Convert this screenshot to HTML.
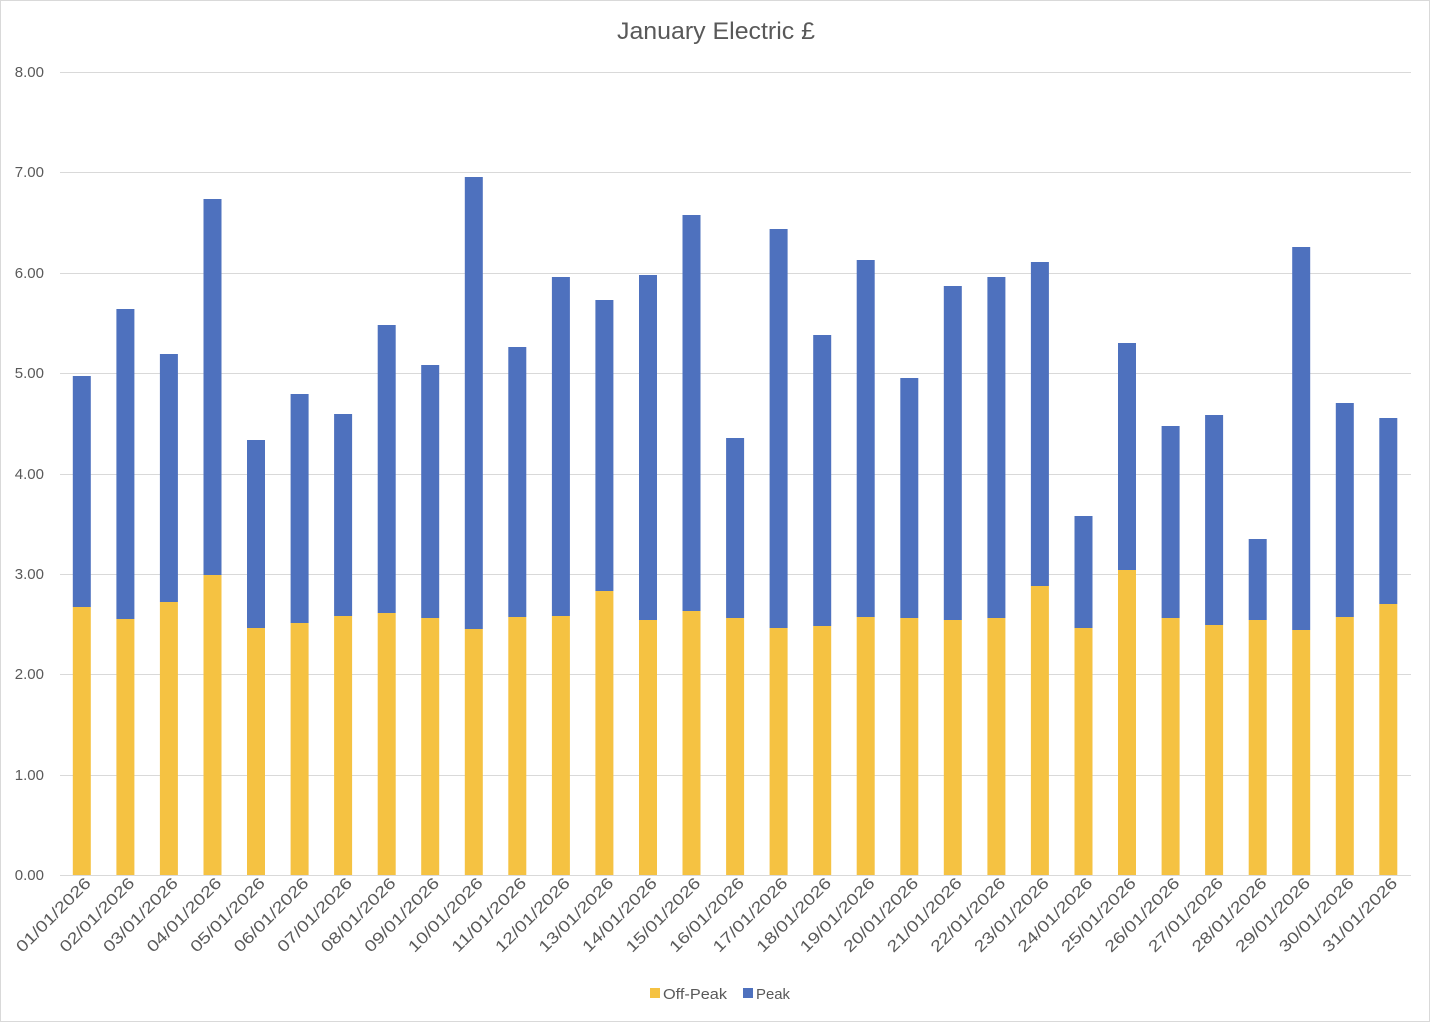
<!DOCTYPE html>
<html><head><meta charset="utf-8"><style>
html,body{margin:0;padding:0;background:#fff;}
svg{display:block;font-family:"Liberation Sans",sans-serif;}
</style></head><body>
<svg width="1430" height="1022" viewBox="0 0 1430 1022" xmlns="http://www.w3.org/2000/svg">
<rect x="0.5" y="0.5" width="1429" height="1021" fill="#fff" stroke="#d9d9d9"/>
<text x="716" y="39" text-anchor="middle" font-size="24" fill="#595959" textLength="198" lengthAdjust="spacingAndGlyphs">January Electric £</text>
<g stroke="#d9d9d9" stroke-width="1">
<line x1="60" x2="1411" y1="72.5" y2="72.5"/><line x1="60" x2="1411" y1="172.5" y2="172.5"/>
<line x1="60" x2="1411" y1="273.5" y2="273.5"/><line x1="60" x2="1411" y1="373.5" y2="373.5"/>
<line x1="60" x2="1411" y1="474.5" y2="474.5"/><line x1="60" x2="1411" y1="574.5" y2="574.5"/>
<line x1="60" x2="1411" y1="674.5" y2="674.5"/><line x1="60" x2="1411" y1="775.5" y2="775.5"/>
<line x1="60" x2="1411" y1="875.5" y2="875.5"/>
</g>
<g font-size="15" fill="#595959" text-anchor="end">
<text x="44" y="77">8.00</text><text x="44" y="177">7.00</text><text x="44" y="278">6.00</text>
<text x="44" y="378">5.00</text><text x="44" y="479">4.00</text><text x="44" y="579">3.00</text>
<text x="44" y="679">2.00</text><text x="44" y="780">1.00</text><text x="44" y="880">0.00</text>
</g>
<g fill="#F5C242">
<rect x="72.8" y="607" width="18" height="268"/>
<rect x="116.4" y="619" width="18" height="256"/>
<rect x="159.9" y="602" width="18" height="273"/>
<rect x="203.5" y="575" width="18" height="300"/>
<rect x="247" y="628" width="18" height="247"/>
<rect x="290.6" y="623" width="18" height="252"/>
<rect x="334.1" y="616" width="18" height="259"/>
<rect x="377.7" y="613" width="18" height="262"/>
<rect x="421.2" y="618" width="18" height="257"/>
<rect x="464.8" y="629" width="18" height="246"/>
<rect x="508.3" y="617" width="18" height="258"/>
<rect x="551.9" y="616" width="18" height="259"/>
<rect x="595.4" y="591" width="18" height="284"/>
<rect x="639" y="620" width="18" height="255"/>
<rect x="682.5" y="611" width="18" height="264"/>
<rect x="726.1" y="618" width="18" height="257"/>
<rect x="769.6" y="628" width="18" height="247"/>
<rect x="813.2" y="626" width="18" height="249"/>
<rect x="856.7" y="617" width="18" height="258"/>
<rect x="900.3" y="618" width="18" height="257"/>
<rect x="943.8" y="620" width="18" height="255"/>
<rect x="987.4" y="618" width="18" height="257"/>
<rect x="1030.9" y="586" width="18" height="289"/>
<rect x="1074.5" y="628" width="18" height="247"/>
<rect x="1118" y="570" width="18" height="305"/>
<rect x="1161.6" y="618" width="18" height="257"/>
<rect x="1205.1" y="625" width="18" height="250"/>
<rect x="1248.7" y="620" width="18" height="255"/>
<rect x="1292.2" y="630" width="18" height="245"/>
<rect x="1335.8" y="617" width="18" height="258"/>
<rect x="1379.3" y="604" width="18" height="271"/>
</g>
<g fill="#4E71BE">
<rect x="72.8" y="376" width="18" height="231"/>
<rect x="116.4" y="309" width="18" height="310"/>
<rect x="159.9" y="354" width="18" height="248"/>
<rect x="203.5" y="199" width="18" height="376"/>
<rect x="247" y="440" width="18" height="188"/>
<rect x="290.6" y="394" width="18" height="229"/>
<rect x="334.1" y="414" width="18" height="202"/>
<rect x="377.7" y="325" width="18" height="288"/>
<rect x="421.2" y="365" width="18" height="253"/>
<rect x="464.8" y="177" width="18" height="452"/>
<rect x="508.3" y="347" width="18" height="270"/>
<rect x="551.9" y="277" width="18" height="339"/>
<rect x="595.4" y="300" width="18" height="291"/>
<rect x="639" y="275" width="18" height="345"/>
<rect x="682.5" y="215" width="18" height="396"/>
<rect x="726.1" y="438" width="18" height="180"/>
<rect x="769.6" y="229" width="18" height="399"/>
<rect x="813.2" y="335" width="18" height="291"/>
<rect x="856.7" y="260" width="18" height="357"/>
<rect x="900.3" y="378" width="18" height="240"/>
<rect x="943.8" y="286" width="18" height="334"/>
<rect x="987.4" y="277" width="18" height="341"/>
<rect x="1030.9" y="262" width="18" height="324"/>
<rect x="1074.5" y="516" width="18" height="112"/>
<rect x="1118" y="343" width="18" height="227"/>
<rect x="1161.6" y="426" width="18" height="192"/>
<rect x="1205.1" y="415" width="18" height="210"/>
<rect x="1248.7" y="539" width="18" height="81"/>
<rect x="1292.2" y="247" width="18" height="383"/>
<rect x="1335.8" y="403" width="18" height="214"/>
<rect x="1379.3" y="418" width="18" height="186"/>
</g>
<g font-size="16" fill="#595959" text-anchor="end">
<text transform="translate(91.8,884) rotate(-45)" textLength="98" lengthAdjust="spacingAndGlyphs">01/01/2026</text>
<text transform="translate(135.4,884) rotate(-45)" textLength="98" lengthAdjust="spacingAndGlyphs">02/01/2026</text>
<text transform="translate(178.9,884) rotate(-45)" textLength="98" lengthAdjust="spacingAndGlyphs">03/01/2026</text>
<text transform="translate(222.5,884) rotate(-45)" textLength="98" lengthAdjust="spacingAndGlyphs">04/01/2026</text>
<text transform="translate(266,884) rotate(-45)" textLength="98" lengthAdjust="spacingAndGlyphs">05/01/2026</text>
<text transform="translate(309.6,884) rotate(-45)" textLength="98" lengthAdjust="spacingAndGlyphs">06/01/2026</text>
<text transform="translate(353.1,884) rotate(-45)" textLength="98" lengthAdjust="spacingAndGlyphs">07/01/2026</text>
<text transform="translate(396.7,884) rotate(-45)" textLength="98" lengthAdjust="spacingAndGlyphs">08/01/2026</text>
<text transform="translate(440.2,884) rotate(-45)" textLength="98" lengthAdjust="spacingAndGlyphs">09/01/2026</text>
<text transform="translate(483.8,884) rotate(-45)" textLength="98" lengthAdjust="spacingAndGlyphs">10/01/2026</text>
<text transform="translate(527.3,884) rotate(-45)" textLength="98" lengthAdjust="spacingAndGlyphs">11/01/2026</text>
<text transform="translate(570.9,884) rotate(-45)" textLength="98" lengthAdjust="spacingAndGlyphs">12/01/2026</text>
<text transform="translate(614.4,884) rotate(-45)" textLength="98" lengthAdjust="spacingAndGlyphs">13/01/2026</text>
<text transform="translate(658,884) rotate(-45)" textLength="98" lengthAdjust="spacingAndGlyphs">14/01/2026</text>
<text transform="translate(701.5,884) rotate(-45)" textLength="98" lengthAdjust="spacingAndGlyphs">15/01/2026</text>
<text transform="translate(745.1,884) rotate(-45)" textLength="98" lengthAdjust="spacingAndGlyphs">16/01/2026</text>
<text transform="translate(788.6,884) rotate(-45)" textLength="98" lengthAdjust="spacingAndGlyphs">17/01/2026</text>
<text transform="translate(832.2,884) rotate(-45)" textLength="98" lengthAdjust="spacingAndGlyphs">18/01/2026</text>
<text transform="translate(875.7,884) rotate(-45)" textLength="98" lengthAdjust="spacingAndGlyphs">19/01/2026</text>
<text transform="translate(919.3,884) rotate(-45)" textLength="98" lengthAdjust="spacingAndGlyphs">20/01/2026</text>
<text transform="translate(962.8,884) rotate(-45)" textLength="98" lengthAdjust="spacingAndGlyphs">21/01/2026</text>
<text transform="translate(1006.4,884) rotate(-45)" textLength="98" lengthAdjust="spacingAndGlyphs">22/01/2026</text>
<text transform="translate(1049.9,884) rotate(-45)" textLength="98" lengthAdjust="spacingAndGlyphs">23/01/2026</text>
<text transform="translate(1093.5,884) rotate(-45)" textLength="98" lengthAdjust="spacingAndGlyphs">24/01/2026</text>
<text transform="translate(1137,884) rotate(-45)" textLength="98" lengthAdjust="spacingAndGlyphs">25/01/2026</text>
<text transform="translate(1180.6,884) rotate(-45)" textLength="98" lengthAdjust="spacingAndGlyphs">26/01/2026</text>
<text transform="translate(1224.1,884) rotate(-45)" textLength="98" lengthAdjust="spacingAndGlyphs">27/01/2026</text>
<text transform="translate(1267.7,884) rotate(-45)" textLength="98" lengthAdjust="spacingAndGlyphs">28/01/2026</text>
<text transform="translate(1311.2,884) rotate(-45)" textLength="98" lengthAdjust="spacingAndGlyphs">29/01/2026</text>
<text transform="translate(1354.8,884) rotate(-45)" textLength="98" lengthAdjust="spacingAndGlyphs">30/01/2026</text>
<text transform="translate(1398.3,884) rotate(-45)" textLength="98" lengthAdjust="spacingAndGlyphs">31/01/2026</text>
</g>
<rect x="650" y="988" width="10" height="10" fill="#F5C242"/>
<text x="663" y="999" font-size="15" fill="#595959" textLength="64" lengthAdjust="spacingAndGlyphs">Off-Peak</text>
<rect x="743" y="988" width="10" height="10" fill="#4E71BE"/>
<text x="756" y="999" font-size="15" fill="#595959" textLength="34" lengthAdjust="spacingAndGlyphs">Peak</text>
</svg>
</body></html>
